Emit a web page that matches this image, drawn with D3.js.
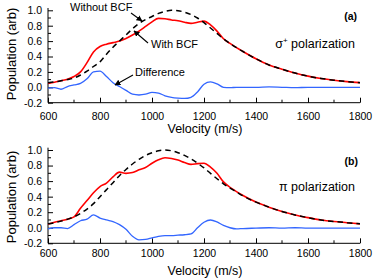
<!DOCTYPE html>
<html><head><meta charset="utf-8">
<script src="https://cdn.jsdelivr.net/npm/d3@7"></script>
<style>
body{margin:0;background:#fff;}
text{font-family:"Liberation Sans",Arial,sans-serif;fill:#000;}
</style></head>
<body><svg id="c" width="374" height="280"></svg>
<script>
const velocity = [600,625,650,675,700,725,750,775,800,825,850,875,900,925,950,975,1000,1025,1050,1075,1100,1125,1150,1175,1200,1225,1250,1275,1300,1325,1350,1400,1450,1500,1550,1600,1650,1700,1750,1800];
const xTicks = [600,800,1000,1200,1400,1600,1800];
const yTicks = [-0.2,0.0,0.2,0.4,0.6,0.8,1.0];

// panel (a) sigma+ polarization
const withoutBCF_a = [0.06,0.07,0.085,0.10,0.12,0.16,0.21,0.27,0.33,0.43,0.52,0.60,0.68,0.76,0.83,0.88,0.92,0.96,0.985,1.0,0.995,0.975,0.945,0.90,0.84,0.77,0.70,0.63,0.57,0.515,0.465,0.37,0.29,0.235,0.185,0.145,0.115,0.092,0.074,0.06];
const withBCF_a = [0.05,0.065,0.085,0.105,0.14,0.20,0.32,0.46,0.53,0.56,0.58,0.60,0.635,0.68,0.73,0.79,0.85,0.895,0.89,0.875,0.865,0.845,0.83,0.845,0.86,0.81,0.73,0.63,0.57,0.515,0.465,0.37,0.29,0.235,0.185,0.145,0.115,0.092,0.074,0.06];
const difference_a = [-0.01,-0.005,-0.025,0.01,0.03,0.05,0.11,0.20,0.21,0.14,0.06,0.01,-0.04,-0.09,-0.10,-0.09,-0.065,-0.075,-0.11,-0.13,-0.14,-0.145,-0.13,-0.06,0.04,0.07,0.045,0.0,-0.005,0.0,0.0,0.0,0.005,0.0,-0.005,0.0,0.0,0.0,0.0,0.0];

// panel (b) pi polarization
const withoutBCF_b = [0.05,0.065,0.085,0.11,0.14,0.185,0.24,0.31,0.40,0.49,0.58,0.67,0.75,0.82,0.88,0.93,0.965,0.99,1.0,0.99,0.965,0.93,0.885,0.83,0.77,0.70,0.63,0.565,0.51,0.46,0.41,0.33,0.265,0.21,0.165,0.13,0.10,0.08,0.065,0.05];
const withBCF_b = [0.045,0.07,0.09,0.11,0.14,0.25,0.35,0.45,0.53,0.575,0.655,0.715,0.70,0.71,0.745,0.775,0.83,0.875,0.90,0.89,0.87,0.84,0.815,0.825,0.83,0.78,0.70,0.59,0.52,0.465,0.415,0.33,0.265,0.21,0.165,0.13,0.10,0.08,0.065,0.05];
const difference_b = [-0.015,0.0,0.0,-0.01,0.04,0.09,0.11,0.165,0.125,0.10,0.08,0.04,-0.02,-0.11,-0.155,-0.15,-0.13,-0.11,-0.10,-0.10,-0.095,-0.09,-0.08,0.0,0.07,0.10,0.075,0.03,0.0,-0.015,-0.01,-0.005,0.0,-0.005,0.0,-0.005,-0.005,-0.005,-0.005,-0.005];

const svg = d3.select("#c");
const x = d3.scaleLinear().domain([600,1800]).range([48,360]);

function panel(top, bottom, dataWithout, dataWith, dataDiff, titleY, tickLabelY, yTitleCenter){
  const y = d3.scaleLinear().domain([-0.2,1.0]).range([bottom, top]);
  const g = svg.append("g");
  const xa = d3.axisBottom(x).tickValues(xTicks).tickSize(-5).tickPadding(0).tickFormat(d3.format("d"));
  const xg = g.append("g").attr("transform",`translate(0,${bottom})`).call(xa);
  xg.select(".domain").attr("d",`M48,0H360`).attr("stroke","#000").attr("stroke-width",1);
  xg.selectAll(".tick line").attr("stroke","#000");
  xg.selectAll(".tick text").attr("y", tickLabelY-bottom).attr("dy",0).attr("font-size","10.5px").attr("font-family","Liberation Sans, Arial, sans-serif");
  g.append("g").selectAll("line").data(d3.range(700,1800,200)).join("line")
    .attr("x1",d=>x(d)).attr("x2",d=>x(d)).attr("y1",bottom).attr("y2",bottom-3).attr("stroke","#000");
  const ya = d3.axisLeft(y).tickValues(yTicks).tickSize(-5).tickPadding(6).tickFormat(d3.format(".1f"));
  const yg = g.append("g").attr("transform","translate(48,0)").call(ya);
  yg.select(".domain").attr("d",`M0,${bottom}V${y(1.03)}`).attr("stroke","#000");
  yg.selectAll(".tick line").attr("stroke","#000");
  yg.selectAll(".tick text").attr("font-size","10.5px").attr("font-family","Liberation Sans, Arial, sans-serif").text(d=>d3.format(".1f")(d).replace("−","-"));
  g.append("g").selectAll("line").data(d3.range(-0.1,1.0,0.2)).join("line")
    .attr("x1",48).attr("x2",51).attr("y1",d=>y(d)).attr("y2",d=>y(d)).attr("stroke","#000");
  g.append("text").attr("x",205).attr("y",titleY).attr("text-anchor","middle").attr("font-size","12.5px").text("Velocity (m/s)");
  g.append("text").attr("transform",`translate(15.5,${yTitleCenter}) rotate(-90)`).attr("text-anchor","middle").attr("font-size","13px").text("Population (arb)");
  const line = d3.line().x((d,i)=>x(velocity[i])).y(d=>y(d)).curve(d3.curveMonotoneX);
  g.append("path").attr("d",line(dataDiff)).attr("fill","none").attr("stroke","#3366ff").attr("stroke-width",1.3);
  g.append("path").attr("d",line(dataWith)).attr("fill","none").attr("stroke","#ff0000").attr("stroke-width",1.6);
  g.append("path").attr("d",line(dataWithout)).attr("fill","none").attr("stroke","#000").attr("stroke-width",1.5).attr("stroke-dasharray","5.5,4");
  return {g,y};
}

panel(10.3, 102.7, withoutBCF_a, withBCF_a, difference_a, 133, 120, 54);
panel(150, 243.3, withoutBCF_b, withBCF_b, difference_b, 274.5, 257, 197);

svg.append("text").attr("x",357).attr("y",20).attr("text-anchor","end").attr("font-size","10.5px").attr("font-weight","bold").text("(a)");
svg.append("text").attr("x",358).attr("y",164.5).attr("text-anchor","end").attr("font-size","10.5px").attr("font-weight","bold").text("(b)");
const s = svg.append("text").attr("x",355).attr("y",48).attr("text-anchor","end").attr("font-size","12.5px");
s.append("tspan").text("σ");
s.append("tspan").attr("dy",-5).attr("font-size","8px").text("+");
s.append("tspan").attr("dy",5).text(" polarization");
svg.append("text").attr("x",355).attr("y",191).attr("text-anchor","end").attr("font-size","12.5px").text("π polarization");

svg.append("defs").append("marker").attr("id","ah").attr("viewBox","0 0 10 10").attr("refX",9).attr("refY",5)
  .attr("markerWidth",6).attr("markerHeight",6).attr("markerUnits","userSpaceOnUse").attr("orient","auto")
  .append("path").attr("d","M0,0L10,5L0,10Z").attr("fill","#000");
function arrow(x1,y1,x2,y2){
  svg.append("line").attr("x1",x1).attr("y1",y1).attr("x2",x2).attr("y2",y2).attr("stroke","#000").attr("stroke-width",1.1).attr("marker-end","url(#ah)");
}
svg.append("text").attr("x",70).attr("y",11).attr("font-size","11px").text("Without BCF");
arrow(131,13,142,21);
svg.append("text").attr("x",151).attr("y",48).attr("font-size","11px").text("With BCF");
arrow(148,43,134,31);
svg.append("text").attr("x",135).attr("y",76).attr("font-size","11px").text("Difference");
arrow(133,75,115,85);
</script>
</body></html>
